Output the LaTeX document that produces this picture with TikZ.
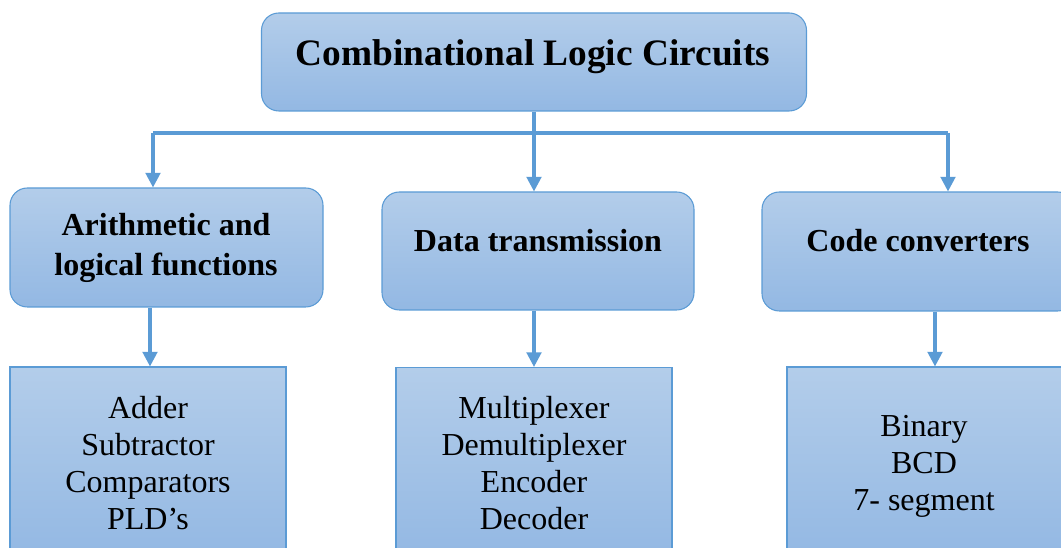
\documentclass[tikz,border=0pt]{standalone}
\usepackage{fontspec}
\setmainfont{Liberation Serif}
\usetikzlibrary{arrows.meta}
\definecolor{edgeblue}{RGB}{91,155,213}
\definecolor{filltop}{RGB}{179,205,234}
\definecolor{fillbot}{RGB}{147,184,227}
\tikzset{
  rbox/.style={draw=edgeblue, line width=0.8pt, rounded corners=13pt, top color=filltop, bottom color=fillbot, inner sep=0pt},
  sbox/.style={draw=edgeblue, line width=0.8pt, top color=filltop, bottom color=fillbot, inner sep=0pt},
  conn/.style={draw=edgeblue, line width=2.3pt},
  arr/.style={conn, -{Triangle[length=11pt,width=11pt]}},
  bigtxt/.style={font=\fontsize{28}{32}\selectfont\bfseries, inner sep=0pt, align=center},
  midtxt/.style={font=\fontsize{24}{30}\selectfont\bfseries, inner sep=0pt, align=center},
  lowtxt/.style={font=\fontsize{24}{27.75}\selectfont, inner sep=0pt, align=center}
}
\begin{document}
\begin{tikzpicture}[x=0.75pt,y=-0.75pt]
\useasboundingbox (0,0) rectangle (1061,548);
\clip (0,0) rectangle (1061,548);
% boxes
\node[rbox, minimum width=408.75pt, minimum height=73.5pt] (top) at (534,62) {};
\node[rbox, minimum width=234.75pt, minimum height=89.25pt] (ml) at (166.5,247.5) {};
\node[rbox, minimum width=234pt, minimum height=88.5pt] (mm) at (538,251) {};
\node[rbox, minimum width=234.75pt, minimum height=89.25pt] (mr) at (918.5,251.5) {};
\node[sbox, minimum width=207pt, minimum height=144pt] (bl) at (148,463) {};
\node[sbox, minimum width=207pt, minimum height=144pt] (bm) at (534,463.5) {};
\node[sbox, minimum width=207pt, minimum height=144pt] (br) at (925,463) {};
% texts
\node[bigtxt] (ttop) at (533,57) {Combinational Logic Circuits};
\node[midtxt] (tml) at (166,248) {Arithmetic and\\logical functions};
\node[midtxt] (tmm) at (538,241) {Data transmission};
\node[midtxt] (tmr) at (918,241) {Code converters};
\node[lowtxt] (tbl) at (148,463) {Adder\\Subtractor\\Comparators\\PLD’s};
\node[lowtxt] (tbm) at (534,463) {Multiplexer\\Demultiplexer\\Encoder\\Decoder};
\node[lowtxt] (tbr) at (924,466) {Binary\\BCD\\7- segment};
% connectors
\coordinate (j) at (534,133);
\coordinate (jl) at (153,133);
\coordinate (jr) at (948,133);
\draw[conn] (top.south) -- (j);
\draw[conn] (jl) -- (jr);
\draw[arr] (jl) -- (jl |- ml.north);
\draw[arr] (j) -- (j |- mm.north);
\draw[arr] (jr) -- (jr |- mr.north);
\draw[arr] ([xshift=1.5pt]ml.south -| bl.north) -- ([xshift=1.5pt]bl.north);
\draw[arr] (mm.south -| bm.north) -- (bm.north);
\draw[arr] ([xshift=7.5pt]mr.south -| br.north) -- ([xshift=7.5pt]br.north);
\end{tikzpicture}
\end{document}
